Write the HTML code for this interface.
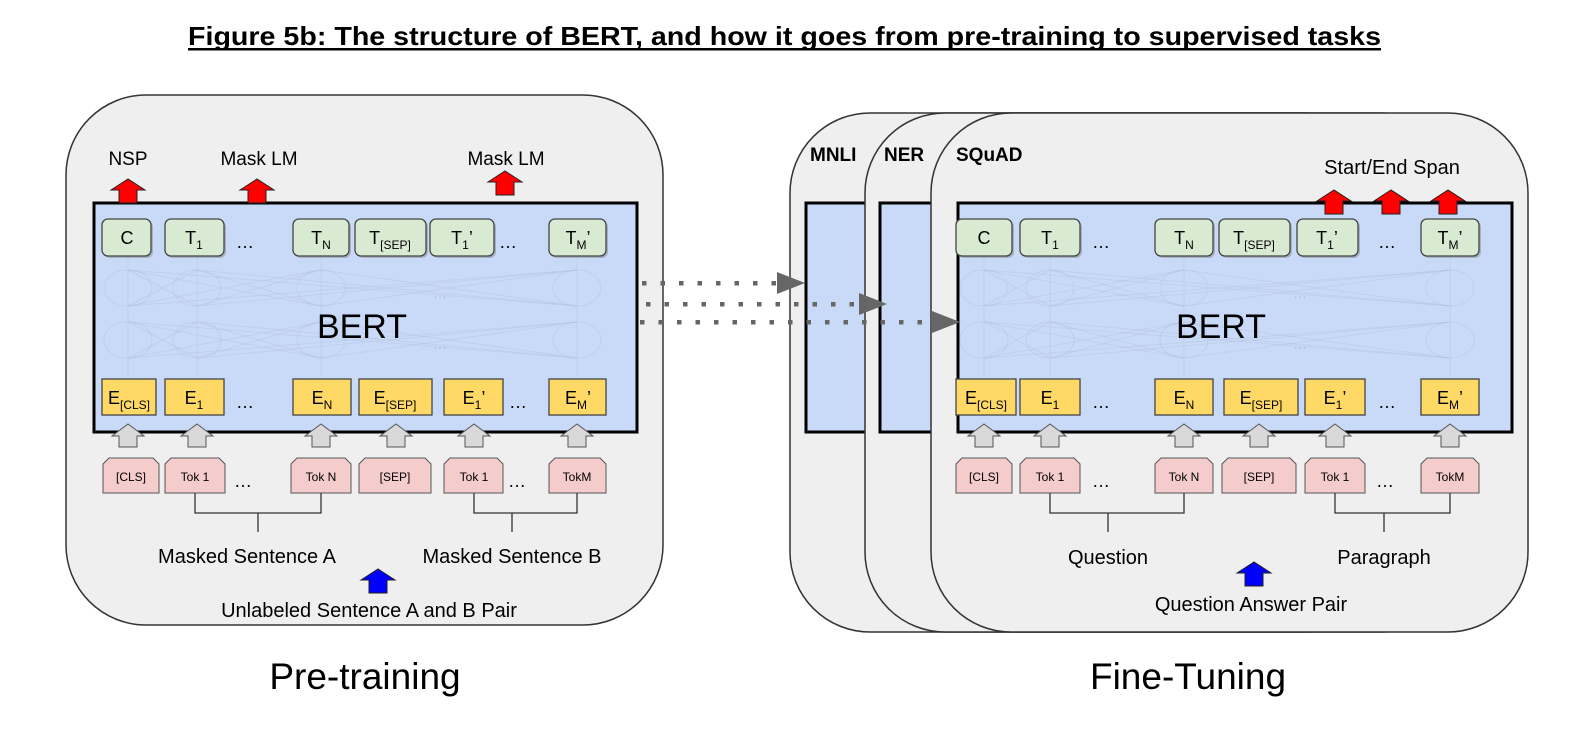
<!DOCTYPE html>
<html><head><meta charset="utf-8"><style>
html,body{margin:0;padding:0;background:#fff}
svg{display:block;font-family:"Liberation Sans",Arial,sans-serif}
</style></head><body>
<svg id="s" width="1587" height="737" viewBox="0 0 1587 737" xmlns="http://www.w3.org/2000/svg">
<text x="188" y="45" font-size="26" font-weight="bold" textLength="1193" lengthAdjust="spacingAndGlyphs">Figure 5b: The structure of BERT, and how it goes from pre-training to supervised tasks</text>
<rect x="188" y="48" width="1193" height="2.5" fill="#000"/>

<rect x="66" y="95" width="597" height="530" rx="80" fill="#efefef" stroke="#333" stroke-width="1.5"/>
<rect x="790" y="113" width="597" height="519" rx="80" fill="#efefef" stroke="#333" stroke-width="1.5"/>
<rect x="806" y="203" width="100" height="229" fill="#c9daf8" stroke="#000" stroke-width="3"/>
<rect x="865" y="113" width="597" height="519" rx="80" fill="#efefef" stroke="#333" stroke-width="1.5"/>
<rect x="880" y="203" width="100" height="229" fill="#c9daf8" stroke="#000" stroke-width="3"/>
<rect x="931" y="113" width="597" height="519" rx="80" fill="#efefef" stroke="#333" stroke-width="1.5"/>

<rect x="94" y="203" width="543" height="229" fill="#c9daf8" stroke="#000" stroke-width="3"/>
<rect x="958" y="203" width="554" height="229" fill="#c9daf8" stroke="#000" stroke-width="3"/>
<g id="g"></g>

<g font-size="19" text-anchor="middle" fill="#000">
<text x="128" y="165">NSP</text>
<text x="259" y="165">Mask LM</text>
<text x="506" y="165">Mask LM</text>
<text x="362" y="338" font-size="34">BERT</text>
<text x="1221" y="338" font-size="34">BERT</text>
<text x="247" y="563" font-size="20">Masked Sentence A</text>
<text x="512" y="563" font-size="20">Masked Sentence B</text>
<text x="369" y="617" font-size="20">Unlabeled Sentence A and B Pair</text>
<text x="365" y="689" font-size="37">Pre-training</text>
<text x="1188" y="689" font-size="37">Fine-Tuning</text>
<text x="1392" y="174" font-size="20">Start/End Span</text>
<text x="1108" y="564" font-size="20">Question</text>
<text x="1384" y="564" font-size="20">Paragraph</text>
<text x="1251" y="611" font-size="20">Question Answer Pair</text>
</g>
<g font-size="19" font-weight="bold">
<text x="810" y="161">MNLI</text>
<text x="884" y="161">NER</text>
<text x="956" y="161">SQuAD</text>
</g>

<g font-size="18" text-anchor="middle">
<text x="127" y="244">C</text>
<text x="194" y="244">T<tspan font-size="12" dy="5">1</tspan></text>
<text x="245" y="248">…</text>
<text x="321" y="244">T<tspan font-size="12" dy="5">N</tspan></text>
<text x="390" y="244">T<tspan font-size="12" dy="5">[SEP]</tspan></text>
<text x="462" y="244">T<tspan font-size="12" dy="5">1</tspan><tspan dy="-5">’</tspan></text>
<text x="508" y="248">…</text>
<text x="578" y="244">T<tspan font-size="12" dy="5">M</tspan><tspan dy="-5">’</tspan></text>

<text x="129" y="404">E<tspan font-size="12" dy="5">[CLS]</tspan></text>
<text x="194" y="404">E<tspan font-size="12" dy="5">1</tspan></text>
<text x="245" y="408">…</text>
<text x="322" y="404">E<tspan font-size="12" dy="5">N</tspan></text>
<text x="395" y="404">E<tspan font-size="12" dy="5">[SEP]</tspan></text>
<text x="474" y="404">E<tspan font-size="12" dy="5">1</tspan><tspan dy="-5">’</tspan></text>
<text x="518" y="408">…</text>
<text x="578" y="404">E<tspan font-size="12" dy="5">M</tspan><tspan dy="-5">’</tspan></text>

<text x="984" y="244">C</text>
<text x="1050" y="244">T<tspan font-size="12" dy="5">1</tspan></text>
<text x="1101" y="248">…</text>
<text x="1184" y="244">T<tspan font-size="12" dy="5">N</tspan></text>
<text x="1254" y="244">T<tspan font-size="12" dy="5">[SEP]</tspan></text>
<text x="1327" y="244">T<tspan font-size="12" dy="5">1</tspan><tspan dy="-5">’</tspan></text>
<text x="1387" y="248">…</text>
<text x="1450" y="244">T<tspan font-size="12" dy="5">M</tspan><tspan dy="-5">’</tspan></text>

<text x="986" y="404">E<tspan font-size="12" dy="5">[CLS]</tspan></text>
<text x="1050" y="404">E<tspan font-size="12" dy="5">1</tspan></text>
<text x="1101" y="408">…</text>
<text x="1184" y="404">E<tspan font-size="12" dy="5">N</tspan></text>
<text x="1261" y="404">E<tspan font-size="12" dy="5">[SEP]</tspan></text>
<text x="1335" y="404">E<tspan font-size="12" dy="5">1</tspan><tspan dy="-5">’</tspan></text>
<text x="1387" y="408">…</text>
<text x="1450" y="404">E<tspan font-size="12" dy="5">M</tspan><tspan dy="-5">’</tspan></text>
</g>
<g font-size="12" text-anchor="middle">
<text x="131" y="481">[CLS]</text>
<text x="195" y="481">Tok 1</text>
<text x="321" y="481">Tok N</text>
<text x="395" y="481">[SEP]</text>
<text x="474" y="481">Tok 1</text>
<text x="577" y="481">TokM</text>
<text x="984" y="481">[CLS]</text>
<text x="1050" y="481">Tok 1</text>
<text x="1184" y="481">Tok N</text>
<text x="1259" y="481">[SEP]</text>
<text x="1335" y="481">Tok 1</text>
<text x="1450" y="481">TokM</text>
</g>
<g font-size="18" text-anchor="middle">
<text x="243" y="487">…</text>
<text x="517" y="487">…</text>
<text x="1101" y="487">…</text>
<text x="1385" y="487">…</text>
</g>
</svg>
<script>
var g=document.getElementById('g'),h='';
function R(x1,x2,y1,y2,f,rx,sh){h+='<rect x="'+(x1+(sh?2:0))+'" y="'+(y1+(sh?2:0))+'" width="'+(x2-x1)+'" height="'+(y2-y1)+'" rx="'+rx+'" fill="'+(sh?'#888':f)+'" opacity="'+(sh?0.5:1)+'"/>';if(!sh)h=h.slice(0,-2)+' stroke="#444" stroke-width="1.3"/>';}
function P(pts,f,s){h+='<polygon points="'+pts+'" fill="'+f+'" stroke="'+s+'" stroke-width="1"/>';}
function net(xs){var c='#b4c2dc',o='0.45';
 [288,340].forEach(function(a){xs.forEach(function(x){h+='<ellipse cx="'+x+'" cy="'+a+'" rx="24" ry="18" fill="none" stroke="'+c+'" stroke-width="1" opacity="'+o+'"/>';});});
 [[358,322],[306,270]].forEach(function(a){xs.forEach(function(x){xs.forEach(function(y){h+='<line x1="'+x+'" y1="'+a[0]+'" x2="'+y+'" y2="'+a[1]+'" stroke="'+c+'" stroke-width="1" opacity="'+o+'"/>';});});});
 xs.forEach(function(x){h+='<line x1="'+x+'" y1="376" x2="'+x+'" y2="358" stroke="'+c+'" opacity="'+o+'"/><line x1="'+x+'" y1="322" x2="'+x+'" y2="306" stroke="'+c+'" opacity="'+o+'"/><line x1="'+x+'" y1="270" x2="'+x+'" y2="258" stroke="'+c+'" opacity="'+o+'"/>';});
}
net([128,197,321,577]);net([984,1050,1184,1450]);
function row(gr,ye,pk,ga){
 gr.forEach(function(b){R(b[0],b[1],219,256,'',6,1);R(b[0],b[1],219,256,'#d9ead3',6,0);});
 ye.forEach(function(b){R(b[0],b[1],379,415,'#ffd966',0,0);});
 pk.forEach(function(b){var a=b[0],c=b[1];P(a+',464 '+(a+6)+',458 '+(c-6)+',458 '+c+',464 '+c+',493 '+a+',493','#f4cccc','#555');});
 ga.forEach(function(x){P((x-16)+',436 '+x+',424 '+(x+16)+',436 '+(x+9)+',436 '+(x+9)+',447 '+(x-9)+',447 '+(x-9)+',436','#d9d9d9','#555');});
}
row([[102,151],[165,224],[293,349],[355,426],[430,494],[549,606]],[[102,156],[165,224],[293,351],[359,432],[444,503],[549,606]],[[103,159],[165,225],[291,351],[359,431],[444,503],[549,606]],[128,197,321,396,474,577]);
row([[956,1012],[1020,1080],[1155,1213],[1219,1290],[1297,1358],[1421,1479]],[[956,1016],[1020,1080],[1155,1213],[1224,1298],[1305,1365],[1421,1479]],[[956,1012],[1020,1080],[1155,1213],[1222,1296],[1305,1365],[1421,1479]],[984,1050,1184,1259,1335,1450]);
function up(x,t,f){P((x-17)+','+(t+11)+' '+x+','+t+' '+(x+17)+','+(t+11)+' '+(x+9)+','+(t+11)+' '+(x+9)+','+(t+24)+' '+(x-9)+','+(t+24)+' '+(x-9)+','+(t+11),f,'#222');}
up(128,179,'#f00');up(257,179,'#f00');up(505,171,'#f00');
up(1334,190,'#f00');up(1391,190,'#f00');up(1448,190,'#f00');
up(378,569,'#00f');up(1254,562,'#00f');
function br(a,b,m){h+='<path d="M'+a+' 493V513H'+b+'V493M'+m+' 513V532" fill="none" stroke="#333" stroke-width="1.3"/>';}
br(195,321,258);br(474,577,512);br(1050,1184,1108);br(1335,1450,1384);
function dot(y,x0,x1){for(var x=x0;x<x1-20;x+=18.5)h+='<rect x="'+x+'" y="'+(y-2)+'" width="4.5" height="4.5" fill="#666"/>';h+='<polygon points="'+(x1-28)+','+(y-11)+' '+x1+','+y+' '+(x1-28)+','+(y+11)+'" fill="#666"/>';}
dot(283,642,805);dot(304,646,887);dot(322,640,960);
h+='<g fill="#b0bcd4" font-size="14" text-anchor="middle"><text x="440" y="298">…</text><text x="440" y="349">…</text><text x="1300" y="298">…</text><text x="1300" y="349">…</text></g>';
g.innerHTML=h;
</script>
</body></html>
